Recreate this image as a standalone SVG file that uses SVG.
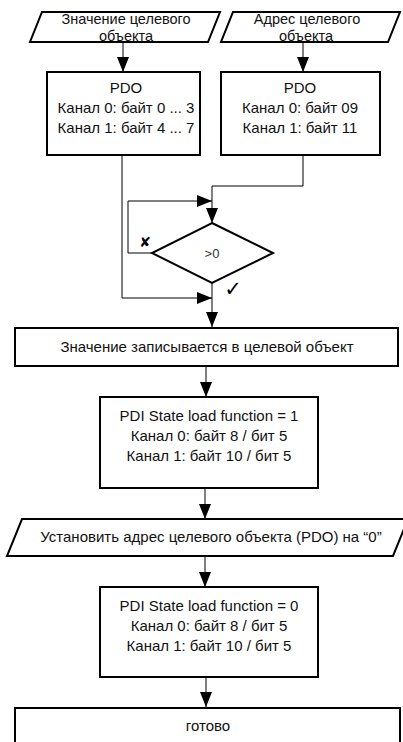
<svg xmlns="http://www.w3.org/2000/svg" width="403" height="742" viewBox="0 0 403 742">
<style>
.shape{fill:#fff;stroke:#000;stroke-width:2}
.line{fill:none;stroke:#000;stroke-width:1}
.t{font-family:"Liberation Sans",Arial,sans-serif;font-size:15px;fill:#111;text-anchor:middle}
.s{font-family:"Liberation Sans",Arial,sans-serif;font-size:14.5px;fill:#111;text-anchor:middle}
.g{font-family:"Liberation Sans",Arial,sans-serif;font-size:13px;fill:#333;text-anchor:middle}
</style>
<defs>
<marker id="ah" viewBox="0 0 15 12" refX="15" refY="6" markerWidth="15" markerHeight="12" markerUnits="userSpaceOnUse" orient="auto">
<path d="M0,0 L15,6 L0,12 Z" fill="#000"/>
</marker>
</defs>
<g id="connectors">
<line class="line" x1="123" y1="42" x2="123" y2="72" marker-end="url(#ah)"/>
<line class="line" x1="303" y1="42" x2="303" y2="72" marker-end="url(#ah)"/>
<polyline class="line" points="122,155 122,298 212,298" marker-end="url(#ah)"/>
<polyline class="line" points="303,155 303,186 212,186 212,223" marker-end="url(#ah)"/>
<polyline class="line" points="152,253 128,253 128,201 212,201" marker-end="url(#ah)"/>
<line class="line" x1="212" y1="283" x2="212" y2="327" marker-end="url(#ah)"/>
<line class="line" x1="206" y1="366" x2="206" y2="397" marker-end="url(#ah)"/>
<line class="line" x1="205" y1="488" x2="205" y2="519" marker-end="url(#ah)"/>
<line class="line" x1="205" y1="556" x2="205" y2="587" marker-end="url(#ah)"/>
<line class="line" x1="206" y1="677" x2="206" y2="707" marker-end="url(#ah)"/>
<text x="145" y="247" font-family="DejaVu Sans,sans-serif" font-size="14" font-weight="bold" text-anchor="middle" fill="#000">✘</text>
<text x="233" y="296" font-family="DejaVu Sans,sans-serif" font-size="21" font-weight="bold" text-anchor="middle" fill="#000">✓</text>
</g>
<g id="in-value">
<polygon class="shape" points="42,12 220,12 208,42 30,42"/>
<text class="s" x="126" y="24">Значение целевого</text>
<text class="s" x="126" y="40.5">объекта</text>
</g>
<g id="in-address">
<polygon class="shape" points="233,12 400,12 388,42 221,42"/>
<text class="s" x="307" y="24">Адрес целевого</text>
<text class="s" x="306" y="40.5">объекта</text>
</g>
<g id="pdo-value">
<rect class="shape" x="47" y="72" width="153" height="83"/>
<text class="t" x="126" y="93">PDO</text>
<text class="t" x="126" y="113">Канал 0: байт 0 ... 3</text>
<text class="t" x="126" y="133">Канал 1: байт 4 ... 7</text>
</g>
<g id="pdo-address">
<rect class="shape" x="221" y="72" width="159" height="83"/>
<text class="t" x="300" y="93">PDO</text>
<text class="t" x="300" y="113">Канал 0: байт 09</text>
<text class="t" x="300" y="133">Канал 1: байт 11</text>
</g>
<g id="decision">
<polygon class="shape" points="212,223 273,253 212,283 152,253"/>
<text class="g" x="212" y="258">&gt;0</text>
</g>
<g id="write">
<rect class="shape" x="15" y="328" width="383" height="38"/>
<text class="t" x="207" y="352">Значение записывается в целевой объект</text>
</g>
<g id="load1">
<rect class="shape" x="100" y="397" width="218" height="91"/>
<text class="t" x="209" y="421">PDI State load function = 1</text>
<text class="t" x="209" y="441">Канал 0: байт 8 / бит 5</text>
<text class="t" x="209" y="461">Канал 1: байт 10 / бит 5</text>
</g>
<g id="set-address">
<polygon class="shape" points="22,519 408,519 393,556 7,556"/>
<text class="t" x="211" y="542">Установить адрес целевого объекта (PDO) на “0”</text>
</g>
<g id="load0">
<rect class="shape" x="100" y="587" width="218" height="90"/>
<text class="t" x="209" y="611">PDI State load function = 0</text>
<text class="t" x="209" y="631">Канал 0: байт 8 / бит 5</text>
<text class="t" x="209" y="651">Канал 1: байт 10 / бит 5</text>
</g>
<g id="done">
<rect class="shape" x="15" y="708" width="385" height="45"/>
<text class="t" x="208" y="731">готово</text>
</g>
</svg>
